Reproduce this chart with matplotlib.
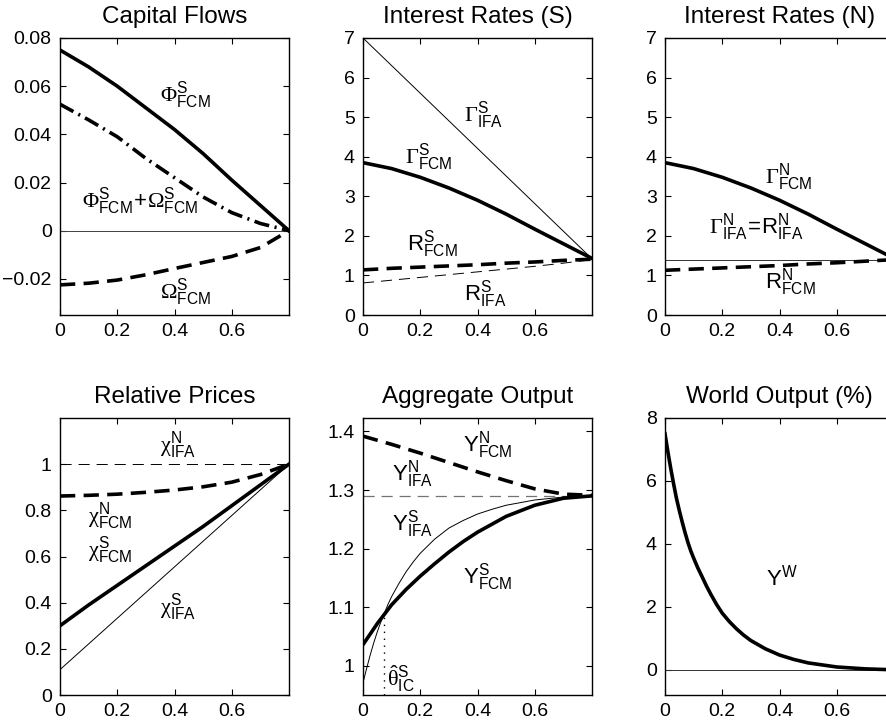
import numpy as np
import matplotlib
matplotlib.use('Agg')
import matplotlib.pyplot as plt

plt.rcParams['font.family'] = ['Liberation Sans', 'DejaVu Sans']
plt.rcParams['mathtext.fontset'] = 'custom'
plt.rcParams['mathtext.rm'] = 'Liberation Sans'
plt.rcParams['mathtext.it'] = 'Liberation Sans:italic'
plt.rcParams['mathtext.bf'] = 'Liberation Sans:bold'
# greek symbols come from a serif face, like the Symbol font
plt.rcParams['mathtext.sf'] = 'Liberation Serif'
plt.rcParams['lines.scale_dashes'] = False

# openness grid
theta = [0.0, 0.1, 0.2, 0.3, 0.4, 0.5, 0.6, 0.7, 0.8]
theta_ends = [0.0, 0.8]

# capital flows
phi_fcm = [0.075, 0.068, 0.060, 0.051, 0.042, 0.032, 0.021, 0.0105, 0.0]
phi_plus_omega_fcm = [0.0525, 0.046, 0.039, 0.030, 0.022, 0.014, 0.0075, 0.003, 0.0]
omega_fcm = [-0.0225, -0.0218, -0.0205, -0.0183, -0.0157, -0.0132, -0.0107, -0.007, 0.0]

# interest rates
gamma_ifa_s = [7.0, 1.42]
gamma_fcm = [3.85, 3.70, 3.48, 3.21, 2.90, 2.55, 2.17, 1.80, 1.43]
r_fcm_s = [1.14, 1.18, 1.21, 1.24, 1.27, 1.31, 1.34, 1.38, 1.41]
r_ifa_s = [0.81, 0.88, 0.95, 1.02, 1.09, 1.16, 1.23, 1.31, 1.40]
r_ifa_n = 1.40
r_fcm_n = [1.13, 1.16, 1.19, 1.22, 1.25, 1.29, 1.32, 1.36, 1.40]

# relative prices
chi_ifa_n = 1.0
chi_fcm_n = [0.862, 0.865, 0.870, 0.878, 0.888, 0.902, 0.922, 0.955, 1.0]
chi_fcm_s = [0.30, 0.39, 0.475, 0.56, 0.645, 0.73, 0.82, 0.91, 1.0]
chi_ifa_s = [0.11, 1.0]

# aggregate output
y_fcm_n = [1.392, 1.378, 1.363, 1.347, 1.331, 1.316, 1.302, 1.293, 1.291]
y_ifa_n = 1.29
theta_ifa_s = [0.0, 0.0125, 0.025, 0.0375, 0.05, 0.0625, 0.075, 0.0875, 0.1, 0.125, 0.15,
               0.175, 0.2, 0.25, 0.3, 0.35, 0.4, 0.45, 0.5, 0.6, 0.7, 0.8]
y_ifa_s = [0.971, 0.995, 1.018, 1.039, 1.058, 1.075, 1.090, 1.105, 1.118, 1.140, 1.160,
           1.177, 1.192, 1.216, 1.235, 1.248, 1.259, 1.267, 1.274, 1.283, 1.288, 1.290]
theta_fcm_s = [0.0, 0.025, 0.05, 0.075, 0.1, 0.15, 0.2, 0.25, 0.3, 0.35, 0.4, 0.5, 0.6, 0.7, 0.8]
y_fcm_s = [1.036, 1.054, 1.072, 1.088, 1.104, 1.130, 1.153, 1.174, 1.194, 1.212, 1.228,
           1.255, 1.274, 1.286, 1.290]
theta_ic = 0.072
y_ic = 1.085

# world output (%)
theta_w = [0.0, 0.01, 0.02, 0.03, 0.04, 0.05, 0.06, 0.07, 0.08, 0.09, 0.1, 0.115, 0.13,
           0.145, 0.16, 0.18, 0.2, 0.225, 0.25, 0.275, 0.3, 0.35, 0.4, 0.45, 0.5, 0.6, 0.7, 0.8]
y_world = [7.5, 6.93, 6.4, 5.91, 5.45, 5.06, 4.7, 4.36, 4.05, 3.78, 3.55, 3.23, 2.95,
           2.66, 2.4, 2.08, 1.8, 1.53, 1.3, 1.1, 0.93, 0.67, 0.47, 0.33, 0.22, 0.09, 0.03, 0.0]

W, H = 886, 725
fig = plt.figure(figsize=(W / 100, H / 100), dpi=100)

THICK = 2.6
THIN = 0.7
DASH = (0, (11, 6))
THIN_DASH = (0, (8, 5))
DASHDOT = (0, (11, 4, 1.5, 4))
LBL = 16
TITLE = 17.5


def make_axes(left, top, width=229, height=277):
    ax = fig.add_axes([left / W, 1 - (top + height) / H, width / W, height / H])
    ax.tick_params(direction='in', top=True, right=True, length=4, width=0.8,
                   labelsize=14, pad=6)
    for s in ax.spines.values():
        s.set_linewidth(1.0)
    ax.set_xlim(0, 0.8)
    ax.set_xticks([0, 0.2, 0.4, 0.6])
    ax.set_xticklabels(['0', '0.2', '0.4', '0.6'])
    return ax


def sym(g, sup, sub):
    return r'\mathsf{\%s}^{\mathrm{%s}}_{\mathrm{%s}}' % (g, sup, sub)


def lat(c, sup, sub=None):
    if sub is None:
        return r'\mathrm{%s}^{\mathrm{%s}}' % (c, sup)
    return r'\mathrm{%s}^{\mathrm{%s}}_{\mathrm{%s}}' % (c, sup, sub)


def label(ax, x, y, s):
    ax.text(x, y, '$' + s + '$', fontsize=LBL, ha='left', va='baseline')


# Capital Flows
ax = make_axes(60, 38)
ax.set_title('Capital Flows', fontsize=TITLE, pad=11)
ax.axhline(0, color='0.25', lw=THIN)
ax.plot(theta, phi_fcm, 'k-', lw=THICK)
ax.plot(theta, phi_plus_omega_fcm, 'k', lw=THICK, linestyle=DASHDOT)
ax.plot(theta, omega_fcm, 'k', lw=THICK, linestyle=DASH)
ax.set_ylim(-0.035, 0.08)
ax.set_yticks([-0.02, 0, 0.02, 0.04, 0.06, 0.08])
ax.set_yticklabels(['\u22120.02', '0', '0.02', '0.04', '0.06', '0.08'])
label(ax, 0.351, 0.0535, sym('Phi', 'S', 'FCM'))
label(ax, 0.076, 0.0096, sym('Phi', 'S', 'FCM') + r'\!+\!' + sym('Omega', 'S', 'FCM'))
label(ax, 0.351, -0.028, sym('Omega', 'S', 'FCM'))

# Interest Rates (S)
ax = make_axes(363, 38)
ax.set_title('Interest Rates (S)', fontsize=TITLE, pad=11)
ax.plot(theta_ends, gamma_ifa_s, 'k-', lw=THIN)
ax.plot(theta, gamma_fcm, 'k-', lw=THICK)
ax.plot(theta, r_ifa_s, 'k', lw=THIN, linestyle=THIN_DASH)
ax.plot(theta, r_fcm_s, 'k', lw=THICK, linestyle=DASH)
ax.set_ylim(0, 7)
ax.set_yticks(range(8))
label(ax, 0.352, 4.89, sym('Gamma', 'S', 'IFA'))
label(ax, 0.147, 3.84, sym('Gamma', 'S', 'FCM'))
label(ax, 0.153, 1.63, lat('R', 'S', 'FCM'))
label(ax, 0.352, 0.36, lat('R', 'S', 'IFA'))

# Interest Rates (N)
ax = make_axes(665, 38)
ax.set_title('Interest Rates (N)', fontsize=TITLE, pad=11)
ax.axhline(r_ifa_n, color='0.2', lw=THIN)
ax.plot(theta, gamma_fcm, 'k-', lw=THICK)
ax.plot(theta, r_fcm_n, 'k', lw=THICK, linestyle=DASH)
ax.set_ylim(0, 7)
ax.set_yticks(range(8))
label(ax, 0.35, 3.33, sym('Gamma', 'N', 'FCM'))
label(ax, 0.152, 2.07, sym('Gamma', 'N', 'IFA') + r'\!=\!' + lat('R', 'N', 'IFA'))
label(ax, 0.35, 0.68, lat('R', 'N', 'FCM'))

# Relative Prices
ax = make_axes(60, 418)
ax.set_title('Relative Prices', fontsize=TITLE, pad=11)
ax.axhline(chi_ifa_n, color='k', lw=THIN, linestyle=THIN_DASH)
ax.plot(theta, chi_fcm_n, 'k', lw=THICK, linestyle=DASH)
ax.plot(theta, chi_fcm_s, 'k-', lw=THICK)
ax.plot(theta_ends, chi_ifa_s, 'k-', lw=THIN)
ax.set_ylim(0, 1.2)
ax.set_yticks([0, 0.2, 0.4, 0.6, 0.8, 1.0])
ax.set_yticklabels(['0', '0.2', '0.4', '0.6', '0.8', '1'])
label(ax, 0.348, 1.053, sym('chi', 'N', 'IFA'))
label(ax, 0.099, 0.746, sym('chi', 'N', 'FCM'))
label(ax, 0.099, 0.601, sym('chi', 'S', 'FCM'))
label(ax, 0.348, 0.355, sym('chi', 'S', 'IFA'))

# Aggregate Output
ax = make_axes(363, 418)
ax.set_title('Aggregate Output', fontsize=TITLE, pad=11)
ax.axhline(y_ifa_n, color='0.45', lw=0.9, linestyle=THIN_DASH)
ax.plot(theta, y_fcm_n, 'k', lw=THICK, linestyle=DASH)
ax.plot(theta_ifa_s, y_ifa_s, 'k-', lw=THIN)
ax.plot(theta_fcm_s, y_fcm_s, 'k-', lw=THICK)
ax.vlines(theta_ic, 0.95, y_ic, colors='k', lw=1.0, linestyles=(0, (1, 4)))
ax.set_ylim(0.95, 1.423)
ax.set_yticks([1.0, 1.1, 1.2, 1.3, 1.4])
ax.set_yticklabels(['1', '1.1', '1.2', '1.3', '1.4'])
label(ax, 0.349, 1.366, lat('Y', 'N', 'FCM'))
label(ax, 0.10, 1.317, lat('Y', 'N', 'IFA'))
label(ax, 0.10, 1.231, lat('Y', 'S', 'IFA'))
label(ax, 0.349, 1.141, lat('Y', 'S', 'FCM'))
label(ax, 0.083, 0.966, r'\hat{\mathsf{\theta}}^{\mathrm{S}}_{\mathrm{IC}}')

# World Output (%)
ax = make_axes(665, 418)
ax.set_title('World Output (%)', fontsize=TITLE, pad=11)
ax.axhline(0, color='0.2', lw=THIN)
ax.plot(theta_w, y_world, 'k-', lw=THICK)
ax.set_ylim(-0.8, 8)
ax.set_yticks([0, 2, 4, 6, 8])
label(ax, 0.353, 2.67, lat('Y', 'W'))

fig.savefig('out.png', dpi=100)
